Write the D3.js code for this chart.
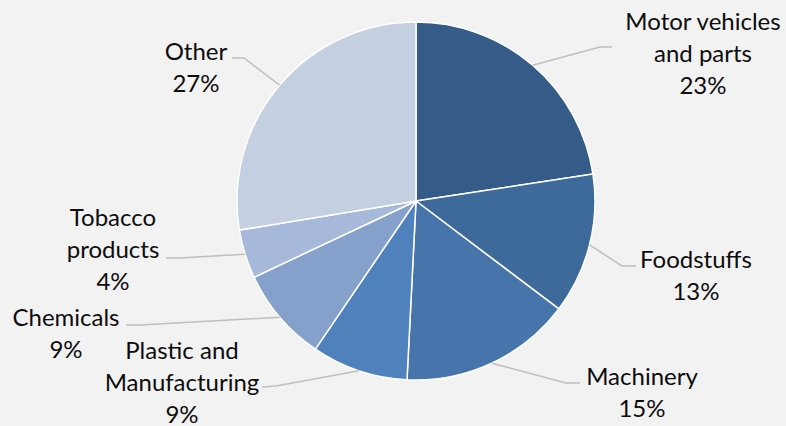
<!DOCTYPE html>
<html><head><meta charset="utf-8">
<script src="https://cdn.jsdelivr.net/npm/d3@7"></script>
<style>html,body{margin:0;padding:0;background:#f2f2f2;}svg{display:block;}</style>
</head><body>
<svg id="chart" width="786" height="426"></svg>
<script>
const categories = ["Motor vehicles and parts","Foodstuffs","Machinery","Plastic and Manufacturing","Chemicals","Tobacco products","Other"];
const values = [22.6, 12.7, 15.5, 8.7, 8.5, 4.4, 27.6];
const percentLabels = ["23%","13%","15%","9%","9%","4%","27%"];
const labelLines = [["Motor vehicles","and parts"],["Foodstuffs"],["Machinery"],["Plastic and","Manufacturing"],["Chemicals"],["Tobacco","products"],["Other"]];
const colors = ["#355b88","#3e699b","#4775ab","#4f81bd","#84a0cb","#a7b9da","#c4cfe2"];

// layout (positions only)
const W = 786, H = 426, cx = 416, cy = 201, R = 179;
const layout = [
  {x:703, y:30,  elbow:[600,47], end:[612,47]},
  {x:696, y:268, elbow:[622,266], end:[636,266]},
  {x:642, y:385, elbow:[566,383], end:[580,383]},
  {x:182, y:359, elbow:[276,386], end:[262,387]},
  {x:66,  y:326, elbow:[140,325], end:[126,325]},
  {x:113, y:226, elbow:[180,258], end:[166,258]},
  {x:196, y:60,  elbow:[244,58], end:[232,58]}
];
const lineH = 32;

const svg = d3.select("#chart");
svg.append("rect").attr("width",W).attr("height",H).attr("fill","#f2f2f2");
const g = svg.append("g").attr("transform",`translate(${cx},${cy})`);

const pie = d3.pie().sort(null).value(d=>d);
const arcs = pie(values);
const arc = d3.arc().innerRadius(0).outerRadius(R);
const color = d3.scaleOrdinal().domain(categories).range(colors);

g.selectAll("path.slice").data(arcs).enter().append("path")
  .attr("class","slice")
  .attr("d",arc)
  .attr("fill",(d,i)=>color(categories[i]))
  .attr("stroke","#ffffff").attr("stroke-width",1.5).attr("stroke-linejoin","round");

// leader lines
arcs.forEach((d,i)=>{
  const mid = (d.startAngle+d.endAngle)/2;
  const px = cx + R*Math.sin(mid), py = cy - R*Math.cos(mid);
  const L = layout[i];
  svg.append("polyline")
    .attr("points",[[px,py],L.elbow,L.end].map(p=>p.join(",")).join(" "))
    .attr("fill","none").attr("stroke","#bfbfbf").attr("stroke-width",1.5);
});

// labels
arcs.forEach((d,i)=>{
  const L = layout[i];
  const t = svg.append("text").attr("text-anchor","middle")
    .attr("font-family","Lato, 'Open Sans', sans-serif").attr("font-size",24).attr("fill","#0d0d0d");
  const lines = labelLines[i].concat([percentLabels[i]]);
  lines.forEach((s,k)=>{
    t.append("tspan").attr("x",L.x).attr("y",L.y + k*lineH).text(s);
  });
});
</script>
</body></html>
